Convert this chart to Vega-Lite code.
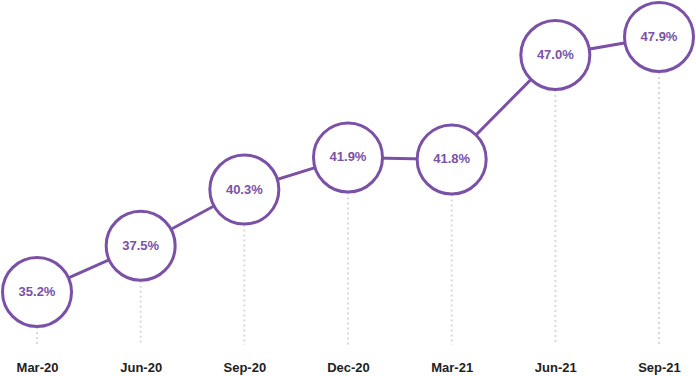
{
  "$schema": "https://vega.github.io/schema/vega-lite/v6.json",
  "width": 696,
  "height": 352,
  "autosize": {"type": "none"},
  "padding": {"top": 0, "left": 0, "right": 0, "bottom": 24},
  "background": "white",
  "config": {"view": {"stroke": null}, "font": "Liberation Sans"},
  "data": {
    "values": [
      {"q": "Mar-20", "v": 35.2, "label": "35.2%", "base": 32.56},
      {"q": "Jun-20", "v": 37.5, "label": "37.5%", "base": 32.56},
      {"q": "Sep-20", "v": 40.3, "label": "40.3%", "base": 32.56},
      {"q": "Dec-20", "v": 41.9, "label": "41.9%", "base": 32.56},
      {"q": "Mar-21", "v": 41.8, "label": "41.8%", "base": 32.56},
      {"q": "Jun-21", "v": 47.0, "label": "47.0%", "base": 32.56},
      {"q": "Sep-21", "v": 47.9, "label": "47.9%", "base": 32.56}
    ]
  },
  "encoding": {
    "x": {
      "field": "q", "type": "ordinal", "sort": null,
      "scale": {"type": "point", "padding": 0.357},
      "axis": {"title": null, "domain": false, "ticks": false, "labelAngle": 0,
               "labelFontWeight": "bold", "labelFontSize": 13, "labelColor": "#222222",
               "labelPadding": 9, "labelFont": "Liberation Sans"}
    }
  },
  "layer": [
    {
      "mark": {"type": "rule", "color": "#d9d9d9", "strokeWidth": 2, "strokeDash": [2, 3]},
      "encoding": {
        "y": {"field": "v", "type": "quantitative", "scale": {"domain": [32.21, 49.74], "nice": false, "zero": false}, "axis": null},
        "y2": {"field": "base"}
      }
    },
    {
      "mark": {"type": "line", "color": "#7a51a6", "strokeWidth": 3},
      "encoding": {"y": {"field": "v", "type": "quantitative"}}
    },
    {
      "mark": {"type": "point", "shape": "circle", "filled": false, "fill": "white", "fillOpacity": 1, "stroke": "#7a51a6", "strokeWidth": 3, "size": 4761, "opacity": 1},
      "encoding": {"y": {"field": "v", "type": "quantitative"}}
    },
    {
      "mark": {"type": "text", "color": "#7a51a6", "fontWeight": "bold", "fontSize": 13, "font": "Liberation Sans", "baseline": "middle", "align": "center"},
      "encoding": {"y": {"field": "v", "type": "quantitative"}, "text": {"field": "label"}}
    }
  ]
}
